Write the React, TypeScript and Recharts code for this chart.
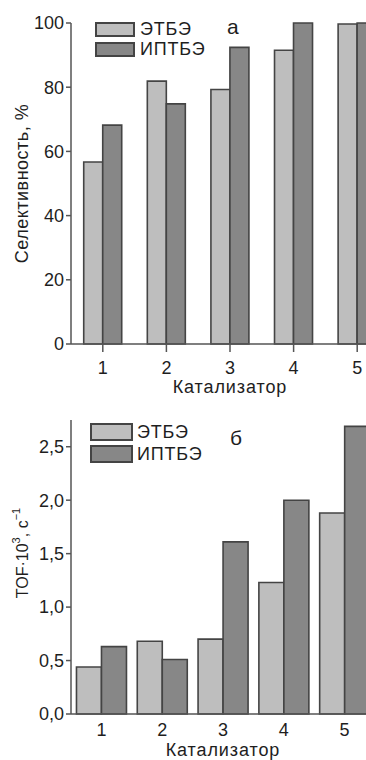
import { BarChart, Bar, XAxis, YAxis, Legend, Label } from "recharts";

// catalysts on the x axis, same for both panels
const catalysts = ["1", "2", "3", "4", "5"];

// panel а: selectivity, %
const selEtbe = [56.7, 81.9, 79.3, 91.5, 99.7];
const selIptbe = [68.2, 74.8, 92.4, 100, 100];
const selTicks = [0, 20, 40, 60, 80, 100];

// panel б: TOF·10^3, s^-1
const tofEtbe = [0.44, 0.68, 0.7, 1.23, 1.88];
const tofIptbe = [0.63, 0.51, 1.61, 2.0, 2.69];
const tofTicks = [0, 0.5, 1, 1.5, 2, 2.5];

const seriesNames = ["ЭТБЭ", "ИПТБЭ"];

const selData = catalysts.map((cat, i) => ({ cat, etbe: selEtbe[i], iptbe: selIptbe[i] }));
const tofData = catalysts.map((cat, i) => ({ cat, etbe: tofEtbe[i], iptbe: tofIptbe[i] }));

const LIGHT = "#bebebe";
const DARK = "#878787";
const EDGE = "#444";
const AXIS = "#555";
const TEXT = "#1e1e1e";
const FONT = "'Liberation Sans', Arial, sans-serif";

const tickStyle = { fontSize: 18, fill: TEXT, fontFamily: FONT };

const PanelLegend = (props: any) => {
  const { payload, letter, swW, swH, rowH, gap, letterLeft, letterTop } = props;
  // keep the series order (ЭТБЭ first), not alphabetical
  const items = [...(payload || [])].sort(
    (a: any, b: any) => seriesNames.indexOf(a.value) - seriesNames.indexOf(b.value)
  );
  return (
    <div style={{ position: "relative", fontSize: 18, lineHeight: 1, color: TEXT, fontFamily: FONT, letterSpacing: 0.8 }}>
      {items.map((item: any) => (
        <div key={item.value} style={{ display: "flex", alignItems: "center", height: rowH }}>
          <span
            style={{
              display: "inline-block",
              width: swW,
              height: swH,
              background: item.color,
              border: `2px solid ${EDGE}`,
              boxSizing: "border-box",
              marginRight: gap,
            }}
          />
          <span>{item.value}</span>
        </div>
      ))}
      <span style={{ position: "absolute", left: letterLeft, top: letterTop, fontSize: 21, lineHeight: 1 }}>
        {letter}
      </span>
    </div>
  );
};

const TofLabel = (props: any) => {
  const vb = props.viewBox || { x: 0, y: 0, width: 71, height: 294 };
  const cx = vb.x + 22;
  const cy = vb.y + vb.height / 2 - 14;
  return (
    <text
      x={cx}
      y={cy}
      transform={`rotate(-90 ${cx} ${cy})`}
      textAnchor="middle"
      dominantBaseline="central"
      fontSize={16}
      fill={TEXT}
      fontFamily={FONT}
    >
      TOF·10
      <tspan dy={-6} fontSize={11}>3</tspan>
      <tspan dy={6}>, с</tspan>
      <tspan dy={-6} fontSize={11}>−1</tspan>
    </text>
  );
};

export default function App() {
  return (
    <div
      style={{
        position: "absolute",
        left: 0,
        top: 0,
        width: 366,
        height: 760,
        overflow: "hidden",
        background: "#fff",
        fontFamily: FONT,
      }}
    >
      <div style={{ position: "absolute", left: 0, top: 0 }}>
        <BarChart
          width={389}
          height={400}
          data={selData}
          margin={{ top: 23, right: 0, bottom: 0, left: 0 }}
          barCategoryGap="20%"
          barGap={0}
        >
          <XAxis
            dataKey="cat"
            height={56}
            tickSize={8}
            tickMargin={9}
            tick={tickStyle}
            axisLine={{ stroke: AXIS, strokeWidth: 1.5 }}
            tickLine={{ stroke: AXIS, strokeWidth: 1.5 }}
          >
            <Label
              value="Катализатор"
              position="insideBottom"
              offset={7}
              style={{ fontSize: 18, fill: TEXT, fontFamily: FONT, letterSpacing: 0.9 }}
            />
          </XAxis>
          <YAxis
            width={71}
            domain={[0, 100]}
            ticks={selTicks}
            tickSize={5}
            tickMargin={2}
            tick={tickStyle}
            axisLine={{ stroke: AXIS, strokeWidth: 1.5 }}
            tickLine={{ stroke: AXIS, strokeWidth: 1.5 }}
          >
            <Label
              value="Селективность, %"
              angle={-90}
              position="insideLeft"
              offset={22}
              style={{ fontSize: 18, fill: TEXT, fontFamily: FONT, textAnchor: "middle", letterSpacing: 0.5 }}
            />
          </YAxis>
          <Legend
            layout="vertical"
            align="center"
            verticalAlign="middle"
            wrapperStyle={{ left: 95, top: 19, width: 200 }}
            content={(p: any) => (
              <PanelLegend {...p} letter="а" swW={40} swH={15} rowH={20} gap={5} letterLeft={132} letterTop={-3} />
            )}
          />
          <Bar dataKey="etbe" name={seriesNames[0]} fill={LIGHT} stroke={EDGE} strokeWidth={1.6} isAnimationActive={false} />
          <Bar dataKey="iptbe" name={seriesNames[1]} fill={DARK} stroke={EDGE} strokeWidth={1.6} isAnimationActive={false} />
        </BarChart>
      </div>

      <div style={{ position: "absolute", left: 0, top: 400 }}>
        <BarChart
          width={375}
          height={360}
          data={tofData}
          margin={{ top: 20, right: 0, bottom: 0, left: 0 }}
          barCategoryGap="9%"
          barGap={0}
        >
          <XAxis
            dataKey="cat"
            height={46}
            tickSize={0}
            tickMargin={9}
            tick={tickStyle}
            axisLine={{ stroke: AXIS, strokeWidth: 1.5 }}
            tickLine={false}
          >
            <Label
              value="Катализатор"
              position="insideBottom"
              offset={4}
              style={{ fontSize: 18, fill: TEXT, fontFamily: FONT, letterSpacing: 0.9 }}
            />
          </XAxis>
          <YAxis
            width={71}
            domain={[0, 2.75]}
            ticks={tofTicks}
            tickSize={5}
            tickMargin={2}
            tick={tickStyle}
            tickFormatter={(v: number) => v.toFixed(1).replace(".", ",")}
            axisLine={{ stroke: AXIS, strokeWidth: 1.5 }}
            tickLine={{ stroke: AXIS, strokeWidth: 1.5 }}
          >
            <Label content={<TofLabel />} />
          </YAxis>
          <Legend
            layout="vertical"
            align="center"
            verticalAlign="middle"
            wrapperStyle={{ left: 90, top: 21, width: 200 }}
            content={(p: any) => (
              <PanelLegend {...p} letter="б" swW={43} swH={18} rowH={22} gap={4} letterLeft={140} letterTop={6} />
            )}
          />
          <Bar dataKey="etbe" name={seriesNames[0]} fill={LIGHT} stroke={EDGE} strokeWidth={1.6} isAnimationActive={false} />
          <Bar dataKey="iptbe" name={seriesNames[1]} fill={DARK} stroke={EDGE} strokeWidth={1.6} isAnimationActive={false} />
        </BarChart>
      </div>
    </div>
  );
}
